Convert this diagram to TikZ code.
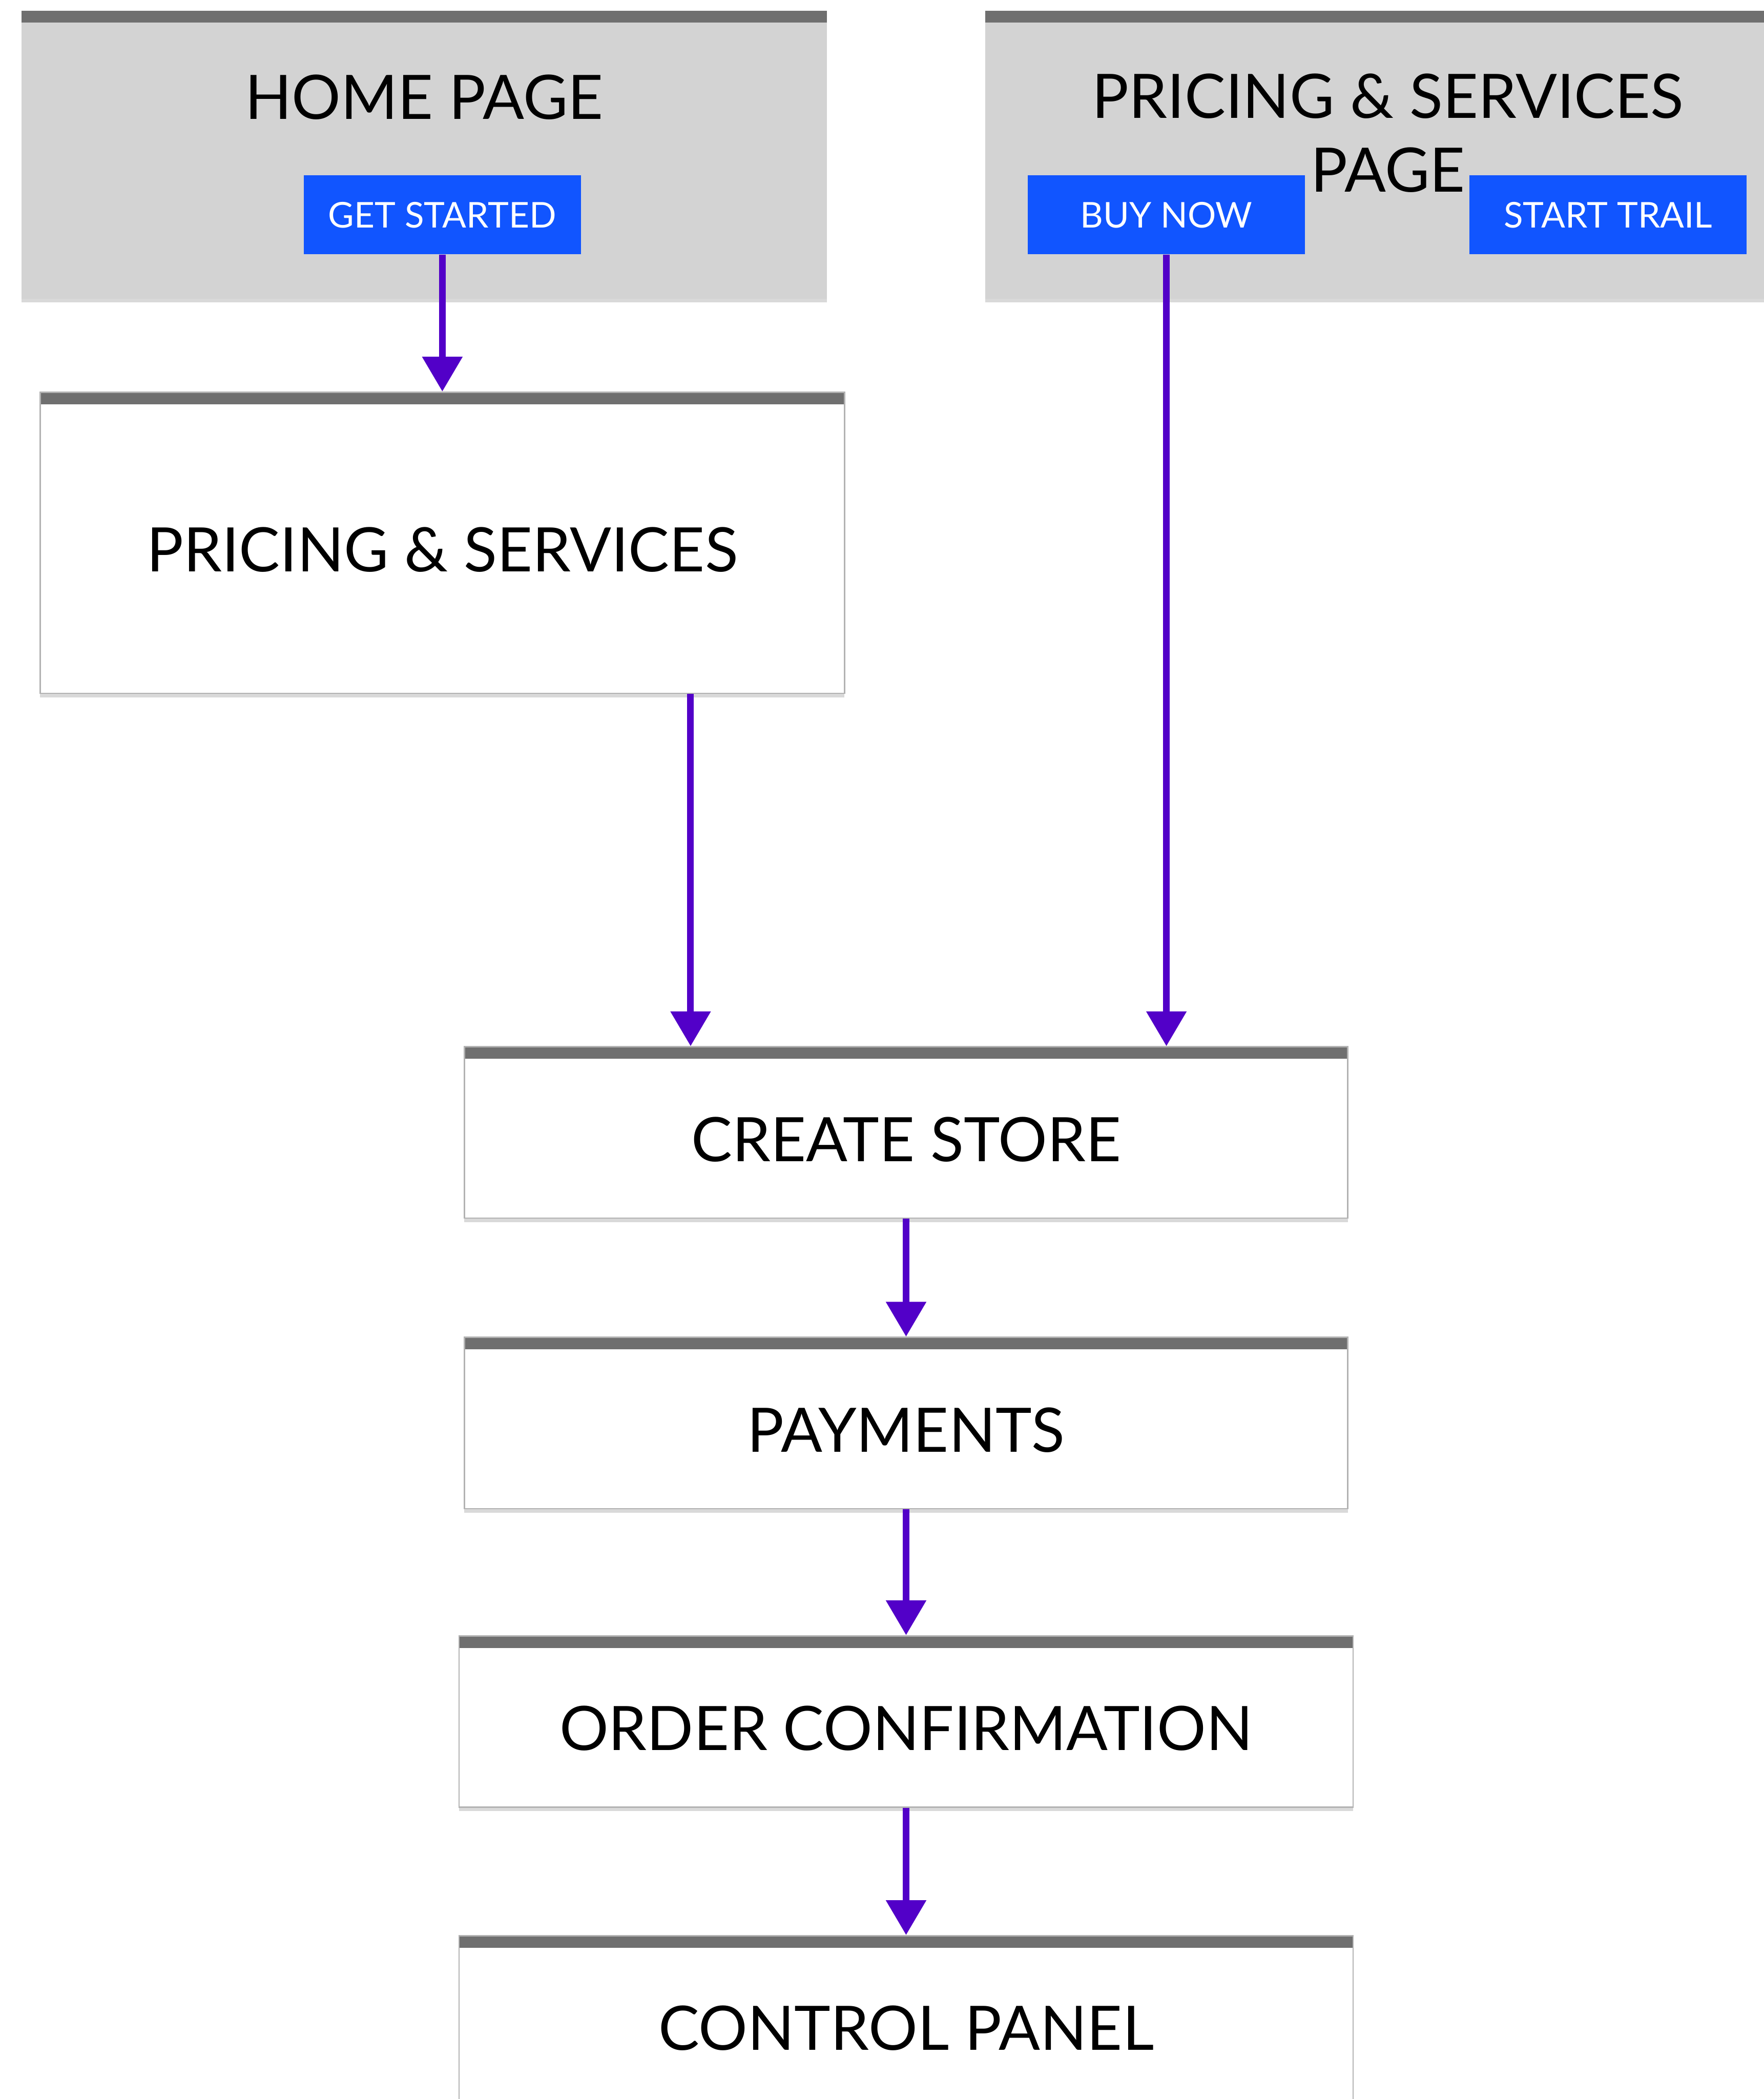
\documentclass[tikz,border=0pt]{standalone}
\usepackage{fontspec}
\setmainfont{Lato}
\usetikzlibrary{arrows.meta,shadows}

\definecolor{panelgray}{RGB}{211,211,211}
\definecolor{bargray}{RGB}{111,111,111}
\definecolor{btnblue}{RGB}{17,85,255}
\definecolor{flowpurple}{RGB}{82,0,200}

\begin{document}
\begin{tikzpicture}[x=1pt,y=-1pt,
    topbar/.style={path picture={\fill[bargray] (path picture bounding box.north west) rectangle ([yshift=-9pt]path picture bounding box.north east);}},
    panel/.style={topbar, fill=panelgray, inner sep=0pt, minimum width=602pt, minimum height=215pt,
        drop shadow={shadow xshift=0pt, shadow yshift=-3pt, fill=black, opacity=0.15}},
    stepbox/.style={topbar, draw=black!30, line width=1pt, fill=white, inner sep=0pt, minimum height=128pt,
        drop shadow={shadow xshift=0pt, shadow yshift=-3pt, fill=black, opacity=0.15},
        font=\fontsize{45.8}{55}\selectfont, text height=43pt, text depth=0pt},
    title/.style={font=\fontsize{45.8}{55}\selectfont, inner sep=0pt, align=center},
    button/.style={fill=btnblue, text=white, minimum width=207pt, minimum height=59pt, inner sep=0pt,
        font=\fontsize{26.5}{30}\selectfont, text height=19pt, text depth=0pt},
    flow/.style={-{Triangle[length=26pt,width=29pt]}, line width=5pt, draw=flowpurple}]
    \useasboundingbox (0,0) rectangle (1318,1568);
    \clip (0,0) rectangle (1318,1568);

    \node[panel] (home) at (317,115.5) {};
    \node[title, anchor=base] (hometitle) at (317,89) {HOME PAGE};
    \node[button] (getstarted) at (330.5,160.5) {GET STARTED};

    \node[panel] (pspage) at (1037,115.5) {};
    \node[title, anchor=north] (pstitle) at (1037,55) {PRICING \& SERVICES\\PAGE};
    \node[button] (buynow) at (871.5,160.5) {BUY NOW};
    \node[button] (starttrail) at (1201.5,160.5) {START TRAIL};

    \node[stepbox, minimum width=601pt, minimum height=225pt] (pricing) at (330.5,405.5) {PRICING \& SERVICES};
    \node[stepbox, minimum width=660pt] (create) at (677,846) {CREATE STORE};
    \node[stepbox, minimum width=660pt] (payments) at (677,1063) {PAYMENTS};
    \node[stepbox, minimum width=668pt] (order) at (677,1286) {ORDER CONFIRMATION};
    \node[stepbox, minimum width=668pt] (control) at (677,1510) {CONTROL PANEL};

    \coordinate (psout) at ([xshift=185.5pt]pricing.south);

    \draw[flow] (getstarted.south) -- (pricing.north);
    \draw[flow] (psout) -- (psout |- create.north);
    \draw[flow] (buynow.south) -- (buynow.south |- create.north);
    \draw[flow] (create.south) -- (payments.north);
    \draw[flow] (payments.south) -- (order.north);
    \draw[flow] (order.south) -- (control.north);
\end{tikzpicture}
\end{document}
